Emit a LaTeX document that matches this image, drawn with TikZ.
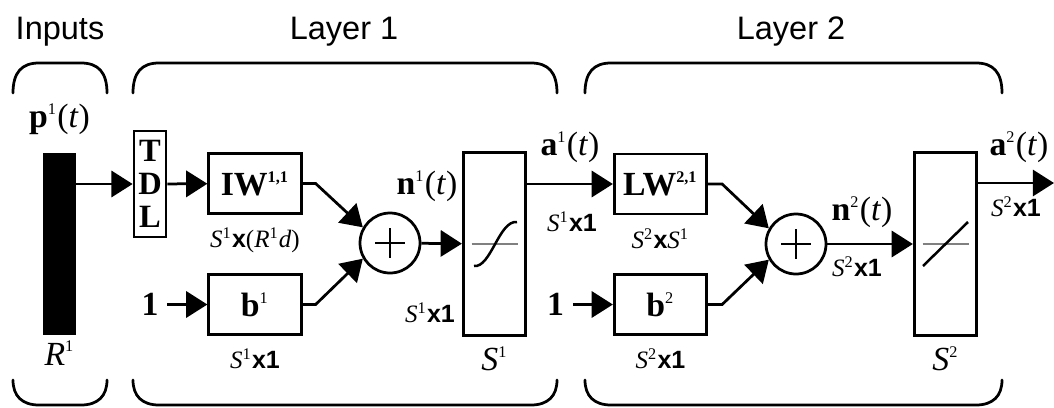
\documentclass[tikz,border=0pt]{standalone}
\usepackage{fontspec}
\setmainfont{Liberation Serif}
\setsansfont{Liberation Sans}
\usepackage{tikz}
\usetikzlibrary{arrows.meta, positioning}
\newcommand\mainlab{\fontsize{13.5}{15}\selectfont}
\newcommand\dimtext{\fontsize{10}{12}\selectfont}
\newcommand\sps[1]{\textsuperscript{\fontsize{6.5}{7}\selectfont #1}}

\begin{document}
\begin{tikzpicture}[x=0.4pt, y=-0.4pt, every node/.style={font=\mainlab},
    blk/.style={draw, line width=1.1pt, minimum width=37pt, minimum height=24pt, inner sep=0pt},
    tfbox/.style={draw, line width=1.1pt, minimum width=25pt, minimum height=73pt, inner sep=0pt},
    sumnode/.style={circle, draw, line width=1.1pt, minimum size=24pt, inner sep=0pt},
    dimlab/.style={font=\dimtext, inner sep=0pt},
    ttl/.style={font=\sffamily\fontsize{13}{15}\selectfont},
    conn/.style={line width=1.1pt, -{Triangle[length=8.5pt, width=10.5pt]}},
    brace/.style={line width=1.1pt, line cap=round}]
            \useasboundingbox (0,0) rectangle (1054,407);
            % titles and braces
            \node[ttl] (tin) at (60,32) {Inputs};
            \node[ttl] (tl1) at (344,32) {Layer 1};
            \node[ttl] (tl2) at (791,32) {Layer 2};
            \foreach \xa/\xb in {13/107, 133/557, 585/1002} {
                \draw[brace] (\xa,93) .. controls (\xa,72) and (\xa+9,63) .. (\xa+26,63) -- (\xb-26,63) .. controls (\xb-9,63) and (\xb,72) .. (\xb,93);
                \draw[brace] (\xa,380) .. controls (\xa,396) and (\xa+9,405) .. (\xa+26,405) -- (\xb-26,405) .. controls (\xb-9,405) and (\xb,396) .. (\xb,380);
            }
            % inputs
            \node[fill=black, minimum width=13pt, minimum height=73pt, inner sep=0pt] (bar) at (59.5,244) {};
            \node[above=7pt of bar, inner sep=0pt] (plab) {\textbf{p}\sps{1}(\textit{t})};
            \node[below=2pt of bar, inner sep=0pt] (rlab) {\textit{R}\sps{1}};
            % layer 1
            \node[draw, line width=1.1pt, minimum width=12.8pt, minimum height=42.4pt, inner sep=0pt, align=center, font=\fontsize{13}{13.2}\selectfont\bfseries] (tdl) at (150,184) {T\\D\\L};
            \node[blk] (iw) at (255,183.5) {\textbf{IW}\sps{\textbf{1,1}}};
            \node[dimlab, below=5pt of iw] (iwdim) {\textit{S}\sps{1}\textsf{\textbf{x}}(\textit{R}\sps{1}\textit{d})};
            \node[blk] (b1) at (255,304.5) {\textbf{b}\sps{1}};
            \node[dimlab, below=5pt of b1] (b1dim) {\textit{S}\sps{1}\textsf{\textbf{x1}}};
            \node[left=16pt of b1] (one1) {\textbf{1}};
            \node[sumnode] (sum1) at (390,243) {};
            \node[inner sep=0pt] (n1) at (427,186) {\textbf{n}\sps{1}(\textit{t})};
            \node[dimlab] (n1dim) at (430,313) {\textit{S}\sps{1}\textsf{\textbf{x1}}};
            \node[tfbox] (f1) at (494.5,244) {};
            \node[below=4pt of f1, inner sep=0pt] (s1) {\textit{S}\sps{1}};
            \node[inner sep=0pt] (a1) at (570,147) {\textbf{a}\sps{1}(\textit{t})};
            \node[dimlab] (a1dim) at (572,222) {\textit{S}\sps{1}\textsf{\textbf{x1}}};
            % layer 2
            \node[blk] (lw) at (660.5,184) {\textbf{LW}\sps{\textbf{2,1}}};
            \node[dimlab, below=5pt of lw] (lwdim) {\textit{S}\sps{2}\textsf{\textbf{x}}\textit{S}\sps{1}};
            \node[blk] (b2) at (660.5,304.5) {\textbf{b}\sps{2}};
            \node[dimlab, below=5pt of b2] (b2dim) {\textit{S}\sps{2}\textsf{\textbf{x1}}};
            \node[left=16pt of b2] (one2) {\textbf{1}};
            \node[sumnode] (sum2) at (796,244) {};
            \node[inner sep=0pt] (n2) at (862,212) {\textbf{n}\sps{2}(\textit{t})};
            \node[dimlab] (n2dim) at (857,267) {\textit{S}\sps{2}\textsf{\textbf{x1}}};
            \node[tfbox] (f2) at (945.5,244) {};
            \node[below=4pt of f2, inner sep=0pt] (s2) {\textit{S}\sps{2}};
            \node[inner sep=0pt] (a2) at (1019,147) {\textbf{a}\sps{2}(\textit{t})};
            \node[dimlab] (a2dim) at (1016,207) {\textit{S}\sps{2}\textsf{\textbf{x1}}};
            \coordinate (out) at (1054,183);
            % plus signs and transfer curves
            \foreach \s in {sum1, sum2}
                \draw[line width=0.8pt] (\s.center) +(-15,0) -- +(15,0) (\s.center) +(0,-15) -- +(0,15);
            \foreach \f in {f1, f2}
                \draw[gray, line width=0.7pt] (\f.center) +(-23,0) -- +(23,0);
            \draw[line width=1pt] (474,266) .. controls (491,268) and (499,220) .. (517,222);
            \draw[line width=1pt] (923,266) -- (968,222);
            % connections
            \draw[conn] (bar.east |- tdl.west) -- (tdl.west);
            \draw[conn] (tdl) -- (iw);
            \draw[conn] (one1) -- (b1);
            \draw[conn] (iw.east) -- ++(13,0) -- (sum1.150);
            \draw[conn] (b1.east) -- ++(13,0) -- (sum1.210);
            \draw[conn] (sum1) -- (f1);
            \draw[conn] (f1.east |- lw.west) -- (lw.west);
            \draw[conn] (one2) -- (b2);
            \draw[conn] (lw.east) -- ++(14,0) -- (sum2.150);
            \draw[conn] (b2.east) -- ++(14,0) -- (sum2.210);
            \draw[conn] (sum2) -- (f2);
            \draw[conn] (f2.east |- out) -- (out);
        \end{tikzpicture}
\end{document}
